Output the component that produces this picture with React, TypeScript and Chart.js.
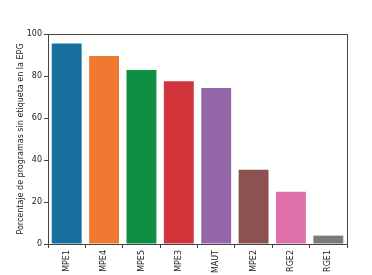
import React, { useEffect, useRef } from "react";
import { Chart, registerables } from "chart.js";

Chart.register(...registerables);

const categories = ["MPE1", "MPE4", "MPE5", "MPE3", "MAUT", "MPE2", "RGE2", "RGE1"];
const values = [95.5, 89.5, 82.8, 77.5, 74.3, 35.3, 24.9, 4.0];
const colors = ["#176fa0", "#ef7930", "#0f8e44", "#d1343b", "#9566aa", "#8e5151", "#e070ac", "#7a7a7a"];
const yTicks = [0, 20, 40, 60, 80, 100];
const yTitle = "Porcentaje de programas sin etiqueta en la EPG";

const frame = {
  id: "frame",
  afterDatasetsDraw(chart: any) {
    const { ctx, chartArea } = chart;
    ctx.save();
    ctx.strokeStyle = "#444";
    ctx.lineWidth = 1;
    ctx.strokeRect(
      Math.round(chartArea.left) + 0.5,
      Math.round(chartArea.top) + 0.5,
      Math.round(chartArea.right - chartArea.left),
      Math.round(chartArea.bottom - chartArea.top)
    );
    ctx.restore();
  },
};

export default function App() {
  const ref = useRef<HTMLCanvasElement>(null);
  useEffect(() => {
    const font = { family: "DejaVu Sans", size: 8 };
    const chart = new Chart(ref.current!, {
      type: "bar",
      data: {
        labels: categories,
        datasets: [
          {
            data: values,
            backgroundColor: colors,
            barPercentage: 0.8,
            categoryPercentage: 1,
          },
        ],
      },
      options: {
        animation: false,
        responsive: false,
        maintainAspectRatio: false,
        layout: { padding: { top: 34, right: 25, left: 16, bottom: 0 } },
        plugins: { legend: { display: false }, tooltip: { enabled: false } },
        scales: {
          x: {
            offset: true,
            grid: { display: true, drawOnChartArea: false, tickLength: 4, color: "#444" },
            border: { display: false },
            ticks: { font, color: "#222", minRotation: 90, maxRotation: 90, padding: 2 },
            afterFit(scale: any) {
              scale.height = 31;
            },
          },
          y: {
            min: 0,
            max: 100,
            afterBuildTicks(scale: any) {
              scale.ticks = yTicks.map((v) => ({ value: v }));
            },
            grid: { display: true, drawOnChartArea: false, tickLength: 4, color: "#444" },
            border: { display: false },
            ticks: { font, color: "#222", padding: 2 },
            title: { display: true, text: yTitle, font, color: "#222", padding: { top: 0, bottom: 4 } },
            afterFit(scale: any) {
              scale.width = 32;
            },
          },
        },
      },
      plugins: [frame],
    });
    return () => chart.destroy();
  }, []);
  return (
    <div style={{ position: "absolute", left: 0, top: 0, width: 372, height: 275, background: "#fff" }}>
      <canvas ref={ref} width={372} height={275} style={{ width: 372, height: 275 }} />
    </div>
  );
}
